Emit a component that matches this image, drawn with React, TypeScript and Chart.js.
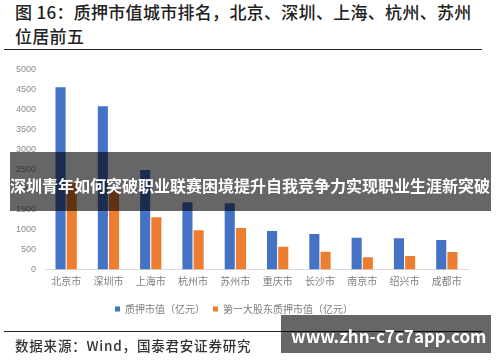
import React, { useEffect, useRef } from "react";
import { Chart, registerables } from "chart.js";

Chart.register(...registerables);

const categories = ["北京市", "深圳市", "上海市", "杭州市", "苏州市", "重庆市", "长沙市", "南京市", "绍兴市", "成都市"];
const pledgeValue = [4565, 4090, 2492, 1684, 1659, 965, 890, 797, 782, 739];
const topHolderPledge = [2160, 1992, 1308, 982, 1040, 571, 446, 306, 338, 438];
const seriesNames = ["质押市值（亿元）", "第一大股东质押市值（亿元）"];
const yTicks = { min: 0, max: 5000, step: 500 };

const titleLine1 = "图 16：质押市值城市排名，北京、深圳、上海、杭州、苏州";
const titleLine2 = "位居前五";
const sourceText = "数据来源：Wind，国泰君安证券研究";
const bannerText = "深圳青年如何突破职业联赛困境提升自我竞争力实现职业生涯新突破";
const urlText = "www.zhn-c7c7app.com";

const CJK = '"Noto Sans CJK SC", "Noto Sans", sans-serif';

export default function App() {
  const ref = useRef<HTMLCanvasElement | null>(null);

  useEffect(() => {
    if (!ref.current) return;
    const chart = new Chart(ref.current, {
      type: "bar",
      data: {
        labels: categories,
        datasets: [
          {
            label: seriesNames[0],
            data: pledgeValue,
            backgroundColor: "#4472C4",
            categoryPercentage: 0.53,
            barPercentage: 0.9,
          },
          {
            label: seriesNames[1],
            data: topHolderPledge,
            backgroundColor: "#ED7D31",
            categoryPercentage: 0.53,
            barPercentage: 0.9,
          },
        ],
      },
      options: {
        responsive: false,
        animation: false,
        devicePixelRatio: 1,
        layout: { padding: { left: 0, right: 32, top: 15, bottom: 11 } },
        plugins: {
          legend: {
            position: "bottom",
            labels: {
              boxWidth: 5,
              boxHeight: 5,
              padding: 8,
              color: "#7f7f7f",
              font: { size: 10, family: CJK },
            },
          },
          tooltip: { enabled: false },
        },
        scales: {
          x: {
            grid: { display: false, drawTicks: false },
            border: { display: true, color: "#d9d9d9", width: 1 },
            ticks: { color: "#7f7f7f", font: { size: 10, family: CJK }, padding: 6 },
            afterFit: (s: any) => {
              s.height = 26.5;
            },
          },
          y: {
            min: yTicks.min,
            max: yTicks.max,
            grid: { display: false, drawTicks: false },
            border: { display: false },
            ticks: {
              stepSize: yTicks.step,
              color: "#8c8c8c",
              font: { size: 9, family: '"Liberation Sans", Arial, sans-serif' },
              padding: 9,
              callback: (v: any) => String(v),
            },
            afterFit: (s: any) => {
              s.width = 45;
            },
          },
        },
      },
    });
    return () => chart.destroy();
  }, []);

  return (
    <div style={{ position: "absolute", left: 0, top: 0, width: 500, height: 362, background: "#fff", overflow: "hidden" }}>
      <div
        style={{
          position: "absolute",
          left: 15,
          top: 0,
          fontFamily: CJK,
          fontSize: 17,
          lineHeight: "24px",
          fontWeight: 500,
          color: "#222",
          letterSpacing: 0.3,
          whiteSpace: "nowrap",
        }}
      >
        <div>{titleLine1}</div>
        <div>{titleLine2}</div>
      </div>
      <div style={{ position: "absolute", left: 4, top: 49, width: 478, height: 1, background: "#222" }} />
      <canvas ref={ref} width={500} height={280} style={{ position: "absolute", left: 0, top: 55, width: 500, height: 280 }} />
      <div style={{ position: "absolute", left: 4, top: 331, width: 478, height: 1, background: "#222" }} />
      <div
        style={{
          position: "absolute",
          left: 15,
          top: 336,
          fontFamily: CJK,
          fontSize: 13.5,
          lineHeight: "19px",
          fontWeight: 500,
          color: "#333",
          letterSpacing: 0.8,
          whiteSpace: "nowrap",
        }}
      >
        {sourceText}
      </div>
      <div
        style={{
          position: "absolute",
          left: 10,
          top: 152,
          width: 481,
          height: 59,
          background: "rgba(0,0,0,0.6)",
          color: "#fff",
          fontFamily: CJK,
          fontWeight: 700,
          fontSize: 16,
          lineHeight: "59px",
          paddingTop: 4,
          boxSizing: "border-box",
          whiteSpace: "nowrap",
          overflow: "hidden",
        }}
      >
        {bannerText}
      </div>
      <div
        style={{
          position: "absolute",
          left: 281,
          top: 315,
          width: 210,
          height: 38,
          background: "rgba(0,0,0,0.6)",
          color: "#fff",
          fontFamily: CJK,
          fontWeight: 700,
          fontSize: 17,
          lineHeight: "38px",
          paddingLeft: 10,
          paddingTop: 2,
          boxSizing: "border-box",
          whiteSpace: "nowrap",
          overflow: "hidden",
        }}
      >
        {urlText}
      </div>
    </div>
  );
}
